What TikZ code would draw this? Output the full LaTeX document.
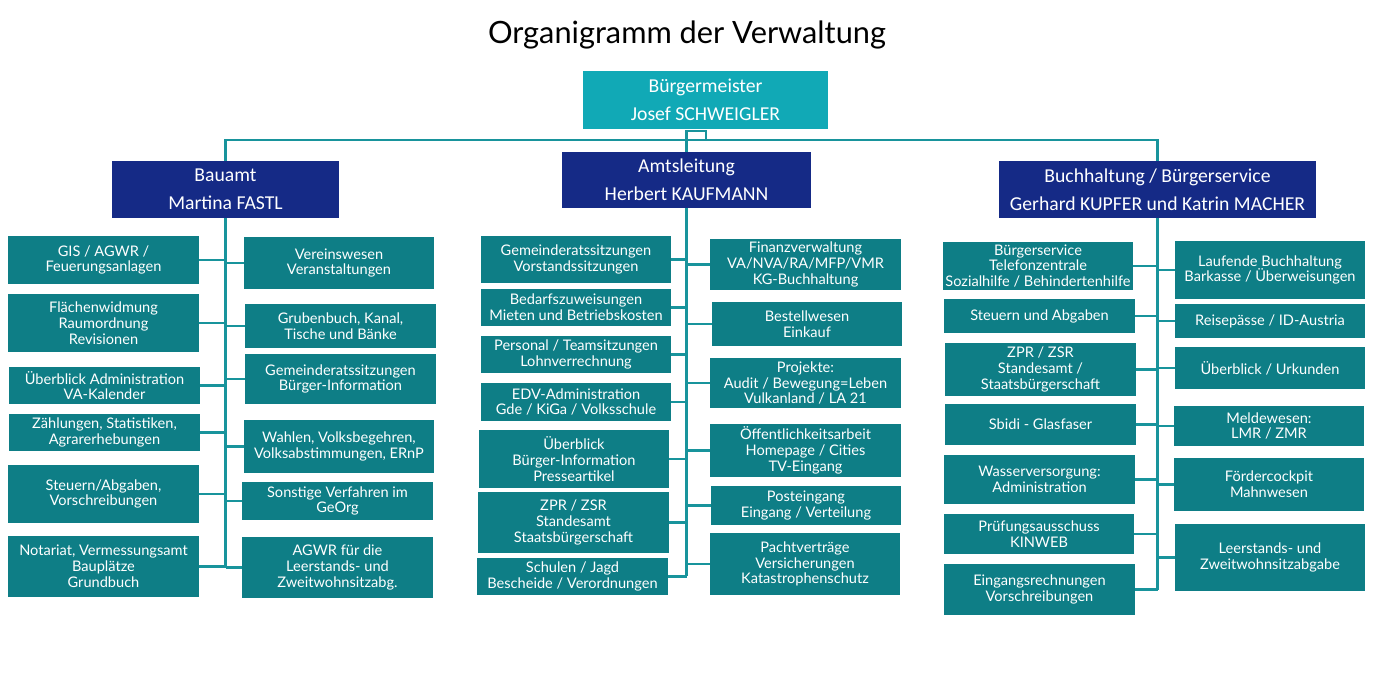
\documentclass[tikz,border=0pt]{standalone}
\usepackage{fontspec}
\setmainfont{Lato}
\newfontfamily\headfont{Carlito}
\usetikzlibrary{positioning,calc}
\definecolor{petrol}{HTML}{0E7E86}
\definecolor{cyanbox}{HTML}{11A9B6}
\definecolor{navy}{HTML}{152A86}
\definecolor{wirec}{HTML}{18949C}
\tikzset{unit/.style={fill=petrol,text=white,inner sep=0pt,outer sep=0pt,align=center,
    font=\fontsize{8.3}{9}\selectfont},
  head/.style={fill=navy,text=white,inner sep=0pt,outer sep=0pt,align=center,
    font=\headfont\fontsize{11.2}{16}\selectfont},
  link/.style={draw=wirec,line width=1.2pt}}

\begin{document}
\begin{tikzpicture}[x=0.02cm,y=-0.02cm]
\useasboundingbox (0,0) rectangle (1375,683);
\node[font=\fontsize{17.5}{20}\selectfont] (title) at (687,35) {Organigramm der Verwaltung};
% heads
\node[head,fill=cyanbox,minimum width=4.9cm,minimum height=1.16cm] (bgm) at (705.5,100) {Bürgermeister\\Josef SCHWEIGLER};
\node[head,minimum width=4.54cm,minimum height=1.14cm] (bau) at (225.5,189.5) {Bauamt\\Martina FASTL};
\node[head,minimum width=4.98cm,minimum height=1.12cm] (amt) at (686.5,180) {Amtsleitung\\Herbert KAUFMANN};
\node[head,minimum width=6.34cm,minimum height=1.14cm] (buch) at (1157.5,189.5) {Buchhaltung / Bürgerservice\\Gerhard KUPFER und Katrin MACHER};
\coordinate (bus) at (0,140);
\coordinate (brk) at (706,131);
\draw[link] (bau.north) |- (buch.north |- bus) -- (buch.north);
\draw[link] (amt.north) |- (brk) -- (brk |- bus);
% trunks
\coordinate (endA) at (0,568);
\coordinate (endC) at (0,576);
\coordinate (endE) at (0,590);
\draw[link] (bau.south) -- (bau.south |- endA);
\draw[link] (amt.south) -- (amt.south |- endC);
\draw[link] (buch.south) -- (buch.south |- endE);
% Bauamt
\foreach \n/\sd/\xa/\ya/\xb/\yb/\txt in {
  a1/east/8/236/199/284/{GIS / AGWR /\\Feuerungsanlagen},
  a2/east/8/294/199/352/{Flächenwidmung\\Raumordnung\\Revisionen},
  a3/east/9/367/200/404/{Überblick Administration\\VA-Kalender},
  a4/east/9/414/200/451/{Zählungen, Statistiken,\\Agrarerhebungen},
  a5/east/8/465/199/523/{Steuern/Abgaben,\\Vorschreibungen},
  a6/east/8/536/199/597/{Notariat, Vermessungsamt\\Bauplätze\\Grundbuch},
  b1/west/244/237/434/289/{Vereinswesen\\Veranstaltungen},
  b2/west/245/304/436/348/{Grubenbuch, Kanal,\\Tische und Bänke},
  b3/west/245/354/436/404/{Gemeinderatssitzungen\\Bürger-Information},
  b4/west/244/420/434/473/{Wahlen, Volksbegehren,\\Volksabstimmungen, ERnP},
  b5/west/242/482/433/520/{Sonstige Verfahren im\\GeOrg},
  b6/west/242/537/433/598/{AGWR für die\\Leerstands- und\\Zweitwohnsitzabg.}}{
  \node[unit,minimum width={(\xb-\xa)*0.02cm},minimum height={(\yb-\ya)*0.02cm}] (\n) at ({(\xa+\xb)/2},{(\ya+\yb)/2}) {\txt};
  \draw[link] (\n.\sd) -- (\n.\sd -| bau.south);
}
% Amtsleitung
\foreach \n/\sd/\xa/\ya/\xb/\yb/\txt in {
  c1/east/481/236/671/283/{Gemeinderatssitzungen\\Vorstandssitzungen},
  c2/east/481/289/671/326/{Bedarfszuweisungen\\Mieten und Betriebskosten},
  c3/east/481/336/671/373/{Personal / Teamsitzungen\\Lohnverrechnung},
  c4/east/481/383/671/421/{EDV-Administration\\Gde / KiGa / Volksschule},
  c5/east/479/430/669/488/{Überblick\\Bürger-Information\\Presseartikel},
  c6/east/478/492/669/553/{ZPR / ZSR\\Standesamt\\Staatsbürgerschaft},
  c7/east/477/558/668/595/{Schulen / Jagd\\Bescheide / Verordnungen},
  d1/west/710/239/901/290/{Finanzverwaltung\\VA/NVA/RA/MFP/VMR\\KG-Buchhaltung},
  d2/west/712/302/902/346/{Bestellwesen\\Einkauf},
  d3/west/710/358/901/408/{Projekte:\\Audit / Bewegung=Leben\\Vulkanland / LA 21},
  d4/west/710/424/901/477/{Öffentlichkeitsarbeit\\Homepage / Cities\\TV-Eingang},
  d5/west/711/486/901/525/{Posteingang\\Eingang / Verteilung},
  d6/west/710/533/900/595/{Pachtverträge\\Versicherungen\\Katastrophenschutz}}{
  \node[unit,minimum width={(\xb-\xa)*0.02cm},minimum height={(\yb-\ya)*0.02cm}] (\n) at ({(\xa+\xb)/2},{(\ya+\yb)/2}) {\txt};
  \draw[link] (\n.\sd) -- (\n.\sd -| amt.south);
}
% Buchhaltung / Buergerservice
\foreach \n/\sd/\xa/\ya/\xb/\yb/\txt in {
  e1/east/943/242/1133/290/{Bürgerservice\\Telefonzentrale\\Sozialhilfe / Behindertenhilfe},
  e2/east/944/299/1135/333/{Steuern und Abgaben},
  e3/east/945/343/1136/396/{ZPR / ZSR\\Standesamt /\\Staatsbürgerschaft},
  e4/east/945/404/1136/445/{Sbidi - Glasfaser},
  e5/east/944/455/1135/504/{Wasserversorgung:\\Administration},
  e6/east/944/514/1134/554/{Prüfungsausschuss\\KINWEB},
  e7/east/944/564/1135/615/{Eingangsrechnungen\\Vorschreibungen},
  f1/west/1175/241/1365/299/{Laufende Buchhaltung\\Barkasse / Überweisungen},
  f2/west/1175/304/1365/338/{Reisepässe / ID-Austria},
  f3/west/1175/347/1365/389/{Überblick / Urkunden},
  f4/west/1174/406/1364/446/{Meldewesen:\\LMR / ZMR},
  f5/west/1174/458/1364/511/{Fördercockpit\\Mahnwesen},
  f6/west/1175/524/1365/591/{Leerstands- und\\Zweitwohnsitzabgabe}}{
  \node[unit,minimum width={(\xb-\xa)*0.02cm},minimum height={(\yb-\ya)*0.02cm}] (\n) at ({(\xa+\xb)/2},{(\ya+\yb)/2}) {\txt};
  \draw[link] (\n.\sd) -- (\n.\sd -| buch.south);
}
\end{tikzpicture}
\end{document}
